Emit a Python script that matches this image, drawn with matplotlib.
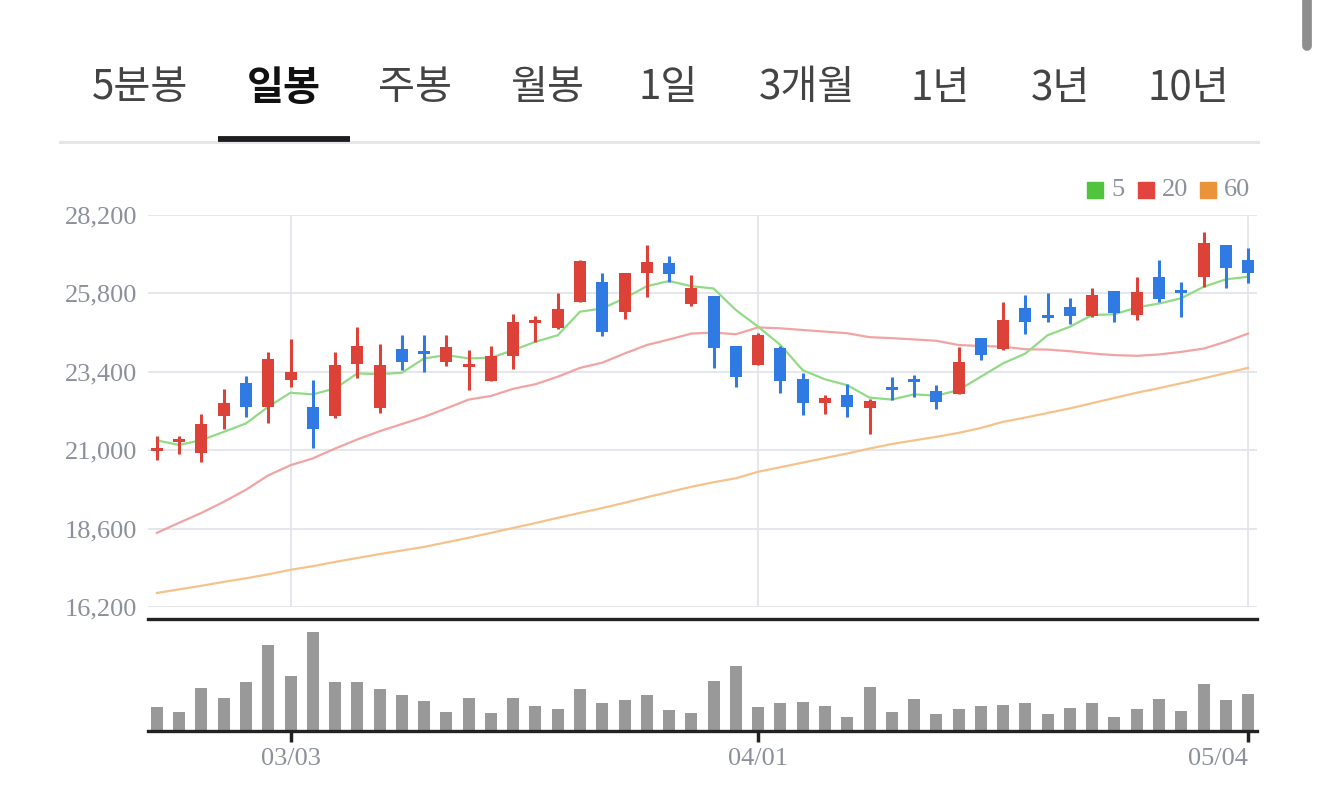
import matplotlib.pyplot as plt
from matplotlib.lines import Line2D
from matplotlib.patches import Rectangle

# daily candles (2026 trading days)
dates = ['02/20', '02/23', '02/24', '02/25', '02/26', '02/27', '03/03', '03/04', '03/05', '03/06',
         '03/09', '03/10', '03/11', '03/12', '03/13', '03/16', '03/17', '03/18', '03/19', '03/20',
         '03/23', '03/24', '03/25', '03/26', '03/27', '03/30', '03/31', '04/01', '04/02', '04/03',
         '04/06', '04/07', '04/08', '04/09', '04/10', '04/13', '04/14', '04/15', '04/16', '04/17',
         '04/20', '04/21', '04/22', '04/23', '04/24', '04/27', '04/28', '04/29', '04/30', '05/04']

opens = [21000, 21250, 20920, 22050, 23060, 22330, 23150, 22320, 22040, 23630,
         22280, 24100, 24020, 23710, 23560, 23110, 23890, 24900, 24750, 25540,
         26140, 25240, 26410, 26740, 25490, 25720, 24200, 23600, 24120, 23180,
         22430, 22690, 22300, 22940, 23180, 22810, 22710, 24420, 24110, 25340,
         25140, 25390, 25120, 25880, 25140, 26310, 25900, 26290, 27280, 26820]
highs = [21430, 21430, 22120, 22860, 23270, 24010, 24390, 23150, 24010, 24760,
         24250, 24520, 24520, 24520, 24070, 24200, 25160, 25110, 25820, 26820,
         26410, 26410, 27280, 26960, 26350, 25720, 24200, 24600, 24200, 23350,
         22680, 23040, 22580, 23250, 23290, 23000, 24170, 24420, 25540, 25750,
         25800, 25670, 25980, 25880, 26310, 26820, 26140, 27690, 27280, 27180]
lows = [20700, 20870, 20630, 21640, 22020, 21840, 22920, 21080, 22000, 23200,
        22150, 23470, 23380, 23580, 22840, 23110, 23480, 24300, 24710, 25540,
        24490, 25030, 25700, 26150, 25410, 23530, 22940, 23600, 22740, 22070,
        22100, 22020, 21510, 22550, 22630, 22250, 22710, 23760, 24060, 24570,
        24910, 24850, 25080, 24910, 25000, 25540, 25080, 26000, 25950, 26110]
closes = [21050, 21350, 21800, 22460, 22330, 23790, 23380, 21640, 23600, 24200,
          23600, 23710, 23980, 24170, 23600, 23890, 24930, 24960, 25310, 26780,
          24630, 26410, 26770, 26380, 25980, 24130, 23250, 24520, 23110, 22430,
          22590, 22330, 22500, 22860, 23110, 22480, 23690, 23910, 24980, 24910,
          25060, 25120, 25750, 25190, 25850, 25620, 25840, 27330, 26570, 26430]

ma5 = [21300, 21160, 21310, 21560, 21820, 22330, 22760, 22710, 22890, 23350,
       23330, 23370, 23810, 23910, 23810, 23830, 24060, 24320, 24520, 25240,
       25340, 25650, 26020, 26180, 26020, 25950, 25290, 24780, 24220, 23450,
       23170, 22990, 22610, 22550, 22710, 22670, 22840, 23250, 23660, 23960,
       24520, 24780, 25140, 25160, 25370, 25490, 25650, 26000, 26230, 26310]
ma20 = [18470, 18780, 19080, 19420, 19790, 20230, 20540, 20750, 21050, 21330,
        21580, 21800, 22020, 22280, 22550, 22660, 22880, 23020, 23250, 23520,
        23680, 23960, 24220, 24390, 24570, 24600, 24550, 24760, 24730, 24680,
        24630, 24580, 24460, 24430, 24390, 24350, 24220, 24190, 24170, 24090,
        24080, 24030, 23960, 23910, 23890, 23930, 24010, 24110, 24320, 24570]
ma60 = [16630, 16740, 16850, 16970, 17080, 17200, 17340, 17450, 17580, 17700,
        17820, 17930, 18040, 18180, 18320, 18470, 18620, 18770, 18930, 19080,
        19230, 19390, 19560, 19720, 19880, 20020, 20140, 20340, 20480, 20620,
        20760, 20900, 21050, 21190, 21300, 21410, 21530, 21680, 21870, 22000,
        22140, 22280, 22440, 22600, 22760, 22900, 23050, 23200, 23360, 23520]

volume = [71, 58, 130, 99, 148, 256, 166, 296, 148, 148,
          125, 107, 89, 58, 99, 53, 99, 76, 67, 125,
          85, 94, 107, 62, 55, 150, 195, 73, 83, 88,
          74, 42, 132, 56, 97, 51, 65, 74, 78, 83,
          51, 69, 83, 42, 65, 97, 60, 142, 92, 110]

tabs = ['5분봉', '일봉', '주봉', '월봉', '1일', '3개월', '1년', '3년', '10년']
tab_x = [140, 284, 415, 547, 668, 807, 940, 1060, 1188]
selected_tab = '일봉'
tick_dates = ['03/03', '04/01', '05/04']
price_ticks = [16200, 18600, 21000, 23400, 25800, 28200]
ma_names = ['5', '20', '60']

UP = '#dc4238'
DOWN = '#2f7be3'
GRID = '#e3e5eb'
LABEL = '#8b909a'
SERIF = 'Liberation Serif'

W, H = 1320, 810


def fx(px):
    return px / W


def fy(py):
    return 1 - py / H


fig = plt.figure(figsize=(13.2, 8.1), dpi=100)

# tabs at the top
for name, x in zip(tabs, tab_x):
    sel = name == selected_tab
    fig.text(fx(x), fy(88), name, ha='center', va='center', fontsize=29,
             family=['Noto Sans CJK KR', 'DejaVu Sans'],
             fontweight='bold' if sel else 'normal',
             color='#111111' if sel else '#444444')
fig.add_artist(Line2D([fx(60), fx(1258)], [fy(142), fy(142)], lw=2.2, color='#e6e6e6'))
fig.add_artist(Line2D([fx(218), fx(350)], [fy(139), fy(139)], lw=4.2, color='#1d1d21',
                      solid_capstyle='butt'))
# scrollbar
fig.add_artist(Line2D([fx(1307), fx(1307)], [fy(-10), fy(46)], lw=7, color='#8e8e8e',
                      solid_capstyle='round'))

# price panel
x = list(range(len(dates)))
ax = fig.add_axes([fx(148), fy(607), fx(1257) - fx(148), fy(215) - fy(607)])
vax = fig.add_axes([fx(148), fy(731), fx(1257) - fx(148), fy(619) - fy(731)], sharex=ax)

ax.plot(x, ma60, color='#f6c28c', lw=1.6, zorder=2)
ax.plot(x, ma20, color='#f2a3a3', lw=1.6, zorder=2)
ax.plot(x, ma5, color='#92db86', lw=1.6, zorder=2)

colors = [UP if c >= o else DOWN for o, c in zip(opens, closes)]
ax.vlines(x, lows, highs, colors=colors, lw=2.2, zorder=3)
bottoms = [min(o, c) for o, c in zip(opens, closes)]
heights = [max(abs(c - o), 90) for o, c in zip(opens, closes)]
bottoms = [b - (90 - abs(c - o)) / 2 if abs(c - o) < 90 else b
           for b, o, c in zip(bottoms, opens, closes)]
ax.bar(x, heights, bottom=bottoms, width=0.54, color=colors, zorder=4)

ax.set_xlim(-0.4, len(dates) - 1 + 0.4)
ax.set_ylim(16200, 28200)
ax.set_yticks(price_ticks)
ax.set_yticklabels([f'{v:,}' for v in price_ticks], family=SERIF, fontsize=19, color=LABEL)
tick_pos = [dates.index(d) for d in tick_dates]
ax.set_xticks(tick_pos)
ax.tick_params(axis='x', length=0, labelbottom=False)
ax.tick_params(axis='y', length=0, pad=8)
ax.grid(True, color=GRID, lw=1.3)
ax.set_axisbelow(True)
for s in ax.spines.values():
    s.set_visible(False)

# volume panel
vax.bar(x, volume, width=0.54, color='#999999')
vax.set_ylim(0, 335)
vax.set_yticks([])
vax.set_xticks(tick_pos)
vax.set_xticklabels(tick_dates, family=SERIF, fontsize=19, color=LABEL)
vax.get_xticklabels()[-1].set_horizontalalignment('right')
vax.tick_params(axis='x', length=8, width=2.5, color='#222222', pad=4)
for side in ['left', 'right']:
    vax.spines[side].set_visible(False)
for side in ['top', 'bottom']:
    vax.spines[side].set_linewidth(2.4)
    vax.spines[side].set_color('#222222')

# legend
legend_cols = ['#4fc43c', '#e2453f', '#ea9338']
legend_sq = [1087, 1138, 1200]
for name, col, px in zip(ma_names, legend_cols, legend_sq):
    fig.add_artist(Rectangle((fx(px), fy(198)), 16 / W, 16 / H, color=col,
                             transform=fig.transFigure))
    fig.text(fx(px + 24), fy(190), name, ha='left', va='center', family=SERIF,
             fontsize=19, color=LABEL)

fig.savefig('out.png', dpi=100)
